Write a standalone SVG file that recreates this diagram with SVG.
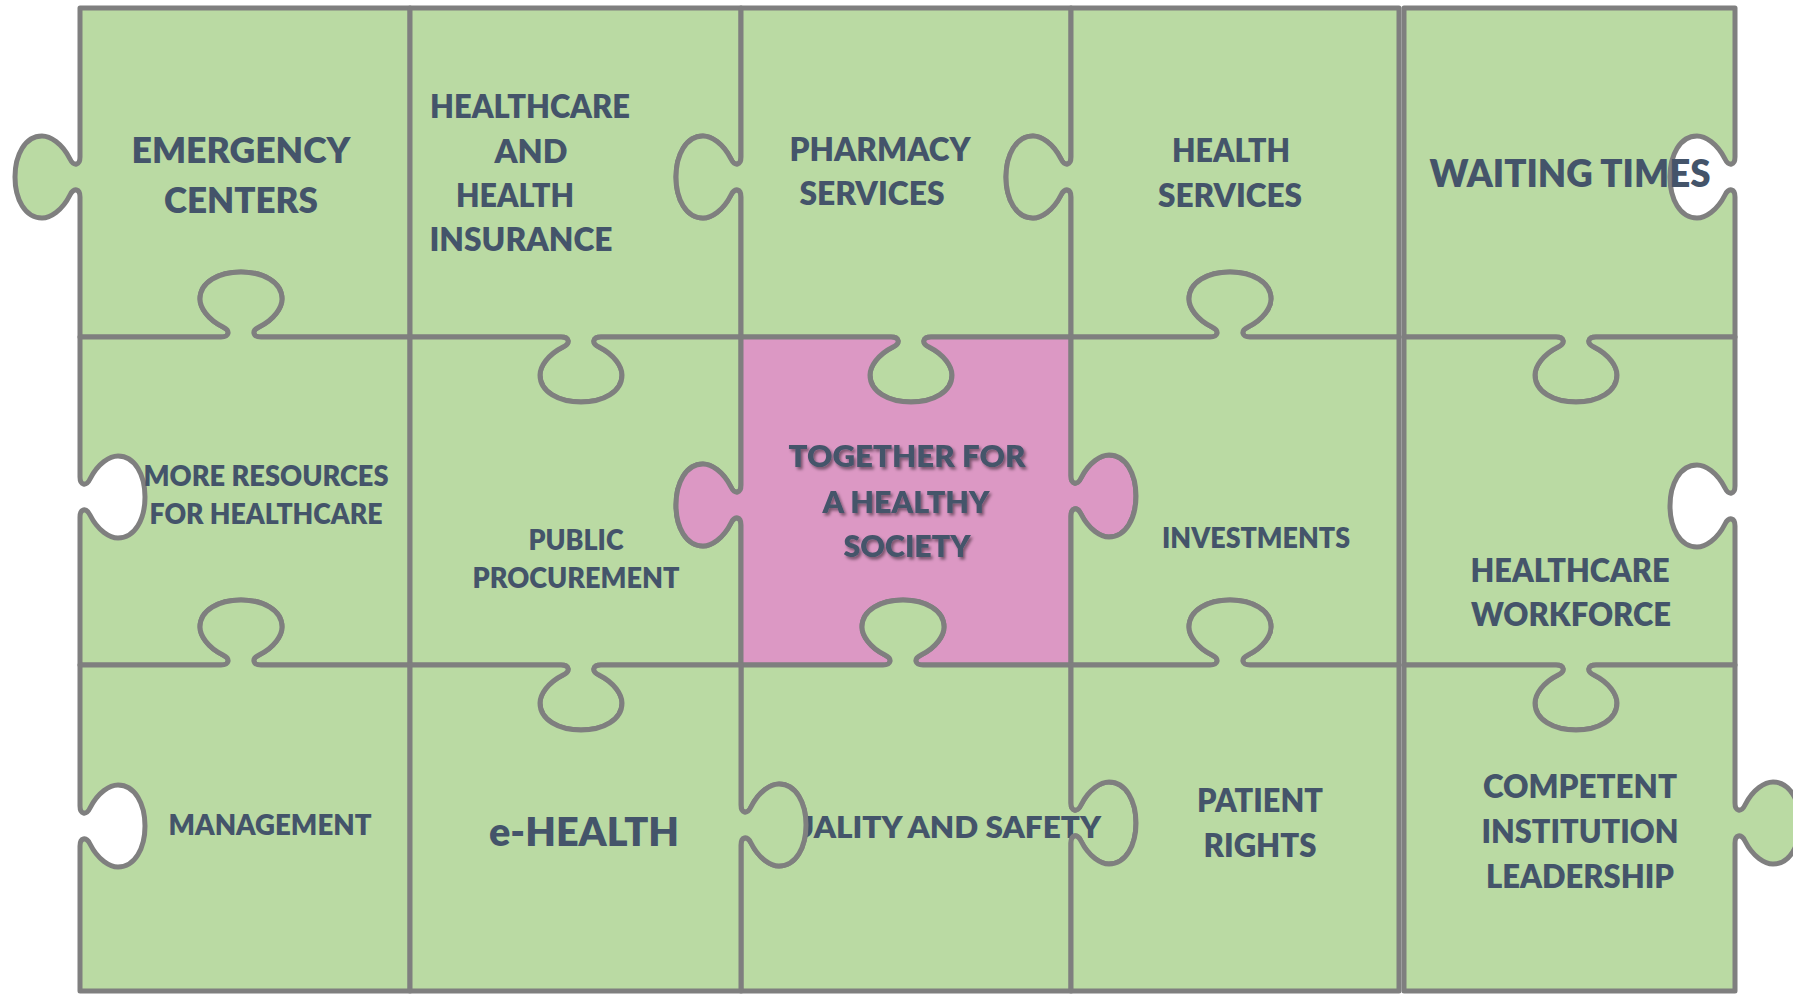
<svg xmlns="http://www.w3.org/2000/svg" width="1793" height="994" viewBox="0 0 1793 994">
<defs>
<style>
.p{fill:#BADAA3;stroke:#7F7F7F;stroke-width:5;stroke-linejoin:round}
.pk{fill:#DC98C4}
.t{font-family:Lato,"Liberation Sans",sans-serif;font-weight:800;fill:#44546A;text-anchor:middle}
.s28{font-size:28px}.s30{font-size:30px}.s31{font-size:31px}.s32{font-size:32px}.s36{font-size:36px}.s38{font-size:38px}.s39{font-size:39px}
</style>
<filter id="sh" x="-10%" y="-20%" width="120%" height="140%">
<feDropShadow dx="2" dy="2.5" stdDeviation="1.5" flood-color="#000" flood-opacity="0.45"/>
</filter>
</defs>
<rect width="1793" height="994" fill="#FFFFFF"/>
<g id="emergency-centers">
<path class="p" d="M80,8 H410 V337 H261 c-8,0 -10,-6 -2,-10 c16,-8 23,-20 23,-28 c0,-17 -19,-27 -41,-27 c-22,0 -41,10 -41,27 c0,8 7,20 23,28 c8,4 6,10 -2,10 H80 V197 c0,-8 -6,-10 -10,-2 c-8,16 -20,23 -28,23 c-17,0 -27,-19 -27,-41 c0,-22 10,-41 27,-41 c8,0 20,7 28,23 c4,8 10,6 10,-2 Z"/>
<text class="t s36" x="241" y="163" textLength="219" lengthAdjust="spacingAndGlyphs">EMERGENCY</text>
<text class="t s36" x="241" y="213" textLength="154" lengthAdjust="spacingAndGlyphs">CENTERS</text>
</g>
<g id="healthcare-insurance">
<path class="p" d="M410,8 H741 V157 c0,8 -6,10 -10,2 c-8,-16 -20,-23 -28,-23 c-17,0 -27,19 -27,41 c0,22 10,41 27,41 c8,0 20,-7 28,-23 c4,-8 10,-6 10,2 V337 H601 c-8,0 -10,6 -2,10 c16,8 23,20 23,28 c0,17 -19,27 -41,27 c-22,0 -41,-10 -41,-27 c0,-8 7,-20 23,-28 c8,-4 6,-10 -2,-10 H410 Z"/>
<text class="t s32" x="530" y="118" textLength="200" lengthAdjust="spacingAndGlyphs">HEALTHCARE</text>
<text class="t s32" x="531" y="163" textLength="73" lengthAdjust="spacingAndGlyphs">AND</text>
<text class="t s32" x="515" y="207" textLength="118" lengthAdjust="spacingAndGlyphs">HEALTH</text>
<text class="t s32" x="521" y="251" textLength="183" lengthAdjust="spacingAndGlyphs">INSURANCE</text>
</g>
<g id="pharmacy-services">
<path class="p" d="M741,8 H1071 V157 c0,8 -6,10 -10,2 c-8,-16 -20,-23 -28,-23 c-17,0 -27,19 -27,41 c0,22 10,41 27,41 c8,0 20,-7 28,-23 c4,-8 10,-6 10,2 V337 H931 c-8,0 -10,6 -2,10 c16,8 23,20 23,28 c0,17 -19,27 -41,27 c-22,0 -41,-10 -41,-27 c0,-8 7,-20 23,-28 c8,-4 6,-10 -2,-10 H741 V197 c0,-8 -6,-10 -10,-2 c-8,16 -20,23 -28,23 c-17,0 -27,-19 -27,-41 c0,-22 10,-41 27,-41 c8,0 20,7 28,23 c4,8 10,6 10,-2 Z"/>
<text class="t s32" x="880" y="161" textLength="181" lengthAdjust="spacingAndGlyphs">PHARMACY</text>
<text class="t s32" x="872" y="205" textLength="145" lengthAdjust="spacingAndGlyphs">SERVICES</text>
</g>
<g id="health-services">
<path class="p" d="M1071,8 H1399 V337 H1250 c-8,0 -10,-6 -2,-10 c16,-8 23,-20 23,-28 c0,-17 -19,-27 -41,-27 c-22,0 -41,10 -41,27 c0,8 7,20 23,28 c8,4 6,10 -2,10 H1071 V197 c0,-8 -6,-10 -10,-2 c-8,16 -20,23 -28,23 c-17,0 -27,-19 -27,-41 c0,-22 10,-41 27,-41 c8,0 20,7 28,23 c4,8 10,6 10,-2 Z"/>
<text class="t s32" x="1231" y="162" textLength="118" lengthAdjust="spacingAndGlyphs">HEALTH</text>
<text class="t s32" x="1230" y="207" textLength="144" lengthAdjust="spacingAndGlyphs">SERVICES</text>
</g>
<g id="waiting-times">
<path class="p" d="M1404,8 H1735 V157 c0,8 -6,10 -10,2 c-8,-16 -20,-23 -28,-23 c-17,0 -27,19 -27,41 c0,22 10,41 27,41 c8,0 20,-7 28,-23 c4,-8 10,-6 10,2 V337 H1596 c-8,0 -10,6 -2,10 c16,8 23,20 23,28 c0,17 -19,27 -41,27 c-22,0 -41,-10 -41,-27 c0,-8 7,-20 23,-28 c8,-4 6,-10 -2,-10 H1404 Z"/>
<text class="t s38" x="1570" y="187" textLength="281" lengthAdjust="spacingAndGlyphs">WAITING TIMES</text>
</g>
<g id="more-resources">
<path class="p" d="M80,337 H221 c8,0 10,-6 2,-10 c-16,-8 -23,-20 -23,-28 c0,-17 19,-27 41,-27 c22,0 41,10 41,27 c0,8 -7,20 -23,28 c-8,4 -6,10 2,10 H410 V665 H261 c-8,0 -10,-6 -2,-10 c16,-8 23,-20 23,-28 c0,-17 -19,-27 -41,-27 c-22,0 -41,10 -41,27 c0,8 7,20 23,28 c8,4 6,10 -2,10 H80 V517 c0,-8 6,-10 10,-2 c8,16 20,23 28,23 c17,0 27,-19 27,-41 c0,-22 -10,-41 -27,-41 c-8,0 -20,7 -28,23 c-4,8 -10,6 -10,-2 Z"/>
<text class="t s28" x="266" y="486" textLength="245" lengthAdjust="spacingAndGlyphs">MORE RESOURCES</text>
<text class="t s28" x="266" y="524" textLength="233" lengthAdjust="spacingAndGlyphs">FOR HEALTHCARE</text>
</g>
<g id="public-procurement">
<path class="p" d="M410,337 H561 c8,0 10,6 2,10 c-16,8 -23,20 -23,28 c0,17 19,27 41,27 c22,0 41,-10 41,-27 c0,-8 -7,-20 -23,-28 c-8,-4 -6,-10 2,-10 H741 V485 c0,8 -6,10 -10,2 c-8,-16 -20,-23 -28,-23 c-17,0 -27,19 -27,41 c0,22 10,41 27,41 c8,0 20,-7 28,-23 c4,-8 10,-6 10,2 V665 H601 c-8,0 -10,6 -2,10 c16,8 23,20 23,28 c0,17 -19,27 -41,27 c-22,0 -41,-10 -41,-27 c0,-8 7,-20 23,-28 c8,-4 6,-10 -2,-10 H410 Z"/>
<text class="t s28" x="576" y="550" textLength="95" lengthAdjust="spacingAndGlyphs">PUBLIC</text>
<text class="t s28" x="576" y="588" textLength="207" lengthAdjust="spacingAndGlyphs">PROCUREMENT</text>
</g>
<g id="together-for-a-healthy-society">
<path class="p pk" d="M741,337 H891 c8,0 10,6 2,10 c-16,8 -23,20 -23,28 c0,17 19,27 41,27 c22,0 41,-10 41,-27 c0,-8 -7,-20 -23,-28 c-8,-4 -6,-10 2,-10 H1071 V476 c0,8 6,10 10,2 c8,-16 20,-23 28,-23 c17,0 27,19 27,41 c0,22 -10,41 -27,41 c-8,0 -20,-7 -28,-23 c-4,-8 -10,-6 -10,2 V665 H923 c-8,0 -10,-6 -2,-10 c16,-8 23,-20 23,-28 c0,-17 -19,-27 -41,-27 c-22,0 -41,10 -41,27 c0,8 7,20 23,28 c8,4 6,10 -2,10 H741 V525 c0,-8 -6,-10 -10,-2 c-8,16 -20,23 -28,23 c-17,0 -27,-19 -27,-41 c0,-22 10,-41 27,-41 c8,0 20,7 28,23 c4,8 10,6 10,-2 Z"/>
<g filter="url(#sh)">
<text class="t s31" x="907" y="467" textLength="237" lengthAdjust="spacingAndGlyphs">TOGETHER FOR</text>
<text class="t s31" x="906" y="513" textLength="167" lengthAdjust="spacingAndGlyphs">A HEALTHY</text>
<text class="t s31" x="907" y="557" textLength="127" lengthAdjust="spacingAndGlyphs">SOCIETY</text>
</g>
</g>
<g id="investments">
<path class="p" d="M1071,337 H1210 c8,0 10,-6 2,-10 c-16,-8 -23,-20 -23,-28 c0,-17 19,-27 41,-27 c22,0 41,10 41,27 c0,8 -7,20 -23,28 c-8,4 -6,10 2,10 H1399 V665 H1250 c-8,0 -10,-6 -2,-10 c16,-8 23,-20 23,-28 c0,-17 -19,-27 -41,-27 c-22,0 -41,10 -41,27 c0,8 7,20 23,28 c8,4 6,10 -2,10 H1071 V516 c0,-8 6,-10 10,-2 c8,16 20,23 28,23 c17,0 27,-19 27,-41 c0,-22 -10,-41 -27,-41 c-8,0 -20,7 -28,23 c-4,8 -10,6 -10,-2 Z"/>
<text class="t s28" x="1256" y="548" textLength="188" lengthAdjust="spacingAndGlyphs">INVESTMENTS</text>
</g>
<g id="healthcare-workforce">
<path class="p" d="M1404,337 H1556 c8,0 10,6 2,10 c-16,8 -23,20 -23,28 c0,17 19,27 41,27 c22,0 41,-10 41,-27 c0,-8 -7,-20 -23,-28 c-8,-4 -6,-10 2,-10 H1735 V486 c0,8 -6,10 -10,2 c-8,-16 -20,-23 -28,-23 c-17,0 -27,19 -27,41 c0,22 10,41 27,41 c8,0 20,-7 28,-23 c4,-8 10,-6 10,2 V665 H1596 c-8,0 -10,6 -2,10 c16,8 23,20 23,28 c0,17 -19,27 -41,27 c-22,0 -41,-10 -41,-27 c0,-8 7,-20 23,-28 c8,-4 6,-10 -2,-10 H1404 Z"/>
<text class="t s32" x="1570" y="582" textLength="199" lengthAdjust="spacingAndGlyphs">HEALTHCARE</text>
<text class="t s32" x="1571" y="626" textLength="200" lengthAdjust="spacingAndGlyphs">WORKFORCE</text>
</g>
<g id="management">
<path class="p" d="M80,665 H221 c8,0 10,-6 2,-10 c-16,-8 -23,-20 -23,-28 c0,-17 19,-27 41,-27 c22,0 41,10 41,27 c0,8 -7,20 -23,28 c-8,4 -6,10 2,10 H410 V991 H80 V846 c0,-8 6,-10 10,-2 c8,16 20,23 28,23 c17,0 27,-19 27,-41 c0,-22 -10,-41 -27,-41 c-8,0 -20,7 -28,23 c-4,8 -10,6 -10,-2 Z"/>
<text class="t s28" x="270" y="835" textLength="203" lengthAdjust="spacingAndGlyphs">MANAGEMENT</text>
</g>
<g id="quality-and-safety">
<path class="p" d="M741,665 H883 c8,0 10,-6 2,-10 c-16,-8 -23,-20 -23,-28 c0,-17 19,-27 41,-27 c22,0 41,10 41,27 c0,8 -7,20 -23,28 c-8,4 -6,10 2,10 H1071 V803 c0,8 6,10 10,2 c8,-16 20,-23 28,-23 c17,0 27,19 27,41 c0,22 -10,41 -27,41 c-8,0 -20,-7 -28,-23 c-4,-8 -10,-6 -10,2 V991 H741 V845 c0,-8 6,-10 10,-2 c8,16 20,23 28,23 c17,0 27,-19 27,-41 c0,-22 -10,-41 -27,-41 c-8,0 -20,7 -28,23 c-4,8 -10,6 -10,-2 Z"/>
<text class="t s30" x="933" y="838" textLength="336" lengthAdjust="spacingAndGlyphs">QUALITY AND SAFETY</text>
</g>
<g id="e-health">
<path class="p" d="M410,665 H561 c8,0 10,6 2,10 c-16,8 -23,20 -23,28 c0,17 19,27 41,27 c22,0 41,-10 41,-27 c0,-8 -7,-20 -23,-28 c-8,-4 -6,-10 2,-10 H741 V805 c0,8 6,10 10,2 c8,-16 20,-23 28,-23 c17,0 27,19 27,41 c0,22 -10,41 -27,41 c-8,0 -20,-7 -28,-23 c-4,-8 -10,-6 -10,2 V991 H410 Z"/>
<text class="t s39" x="584" y="846" textLength="190" lengthAdjust="spacingAndGlyphs">e-HEALTH</text>
</g>
<g id="patient-rights">
<path class="p" d="M1071,665 H1210 c8,0 10,-6 2,-10 c-16,-8 -23,-20 -23,-28 c0,-17 19,-27 41,-27 c22,0 41,10 41,27 c0,8 -7,20 -23,28 c-8,4 -6,10 2,10 H1399 V991 H1071 V843 c0,-8 6,-10 10,-2 c8,16 20,23 28,23 c17,0 27,-19 27,-41 c0,-22 -10,-41 -27,-41 c-8,0 -20,7 -28,23 c-4,8 -10,6 -10,-2 Z"/>
<text class="t s32" x="1260" y="812" textLength="126" lengthAdjust="spacingAndGlyphs">PATIENT</text>
<text class="t s32" x="1260" y="857" textLength="113" lengthAdjust="spacingAndGlyphs">RIGHTS</text>
</g>
<g id="competent-institution-leadership">
<path class="p" d="M1404,665 H1556 c8,0 10,6 2,10 c-16,8 -23,20 -23,28 c0,17 19,27 41,27 c22,0 41,-10 41,-27 c0,-8 -7,-20 -23,-28 c-8,-4 -6,-10 2,-10 H1735 V803 c0,8 6,10 10,2 c8,-16 20,-23 28,-23 c17,0 27,19 27,41 c0,22 -10,41 -27,41 c-8,0 -20,-7 -28,-23 c-4,-8 -10,-6 -10,2 V991 H1404 Z"/>
<text class="t s32" x="1580" y="798" textLength="194" lengthAdjust="spacingAndGlyphs">COMPETENT</text>
<text class="t s32" x="1580" y="843" textLength="197" lengthAdjust="spacingAndGlyphs">INSTITUTION</text>
<text class="t s32" x="1580" y="888" textLength="188" lengthAdjust="spacingAndGlyphs">LEADERSHIP</text>
</g>
</svg>
